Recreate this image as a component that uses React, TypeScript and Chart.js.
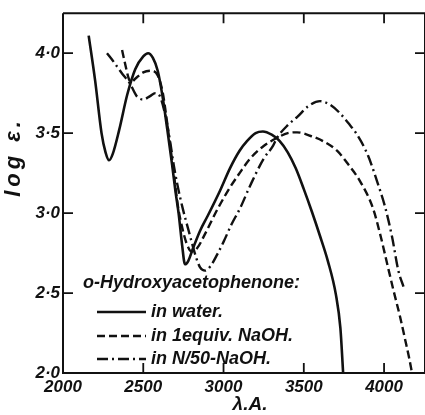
import React, { useEffect, useRef } from "react";
import { Chart, registerables } from "chart.js";

Chart.register(...registerables);

// ---- Data ----
const xTicks = [2000, 2500, 3000, 3500, 4000];
const yTicks = [2.0, 2.5, 3.0, 3.5, 4.0];

const waterX = [2160, 2200, 2240, 2265, 2287, 2310, 2350, 2400, 2450, 2500, 2530, 2560, 2590, 2620, 2650, 2680, 2700, 2720, 2742, 2760, 2780, 2810, 2854, 2900, 2978, 3040, 3100, 3146, 3200, 3245, 3300, 3350, 3400, 3450, 3500, 3550, 3600, 3650, 3700, 3728, 3745];
const waterY = [4.11, 3.83, 3.50, 3.38, 3.33, 3.37, 3.52, 3.74, 3.90, 3.98, 4.0, 3.97, 3.89, 3.73, 3.52, 3.30, 3.14, 3.00, 2.80, 2.68, 2.70, 2.78, 2.89, 2.98, 3.14, 3.28, 3.39, 3.45, 3.50, 3.51, 3.49, 3.45, 3.38, 3.28, 3.15, 3.01, 2.86, 2.70, 2.49, 2.28, 2.0];

const equivX = [2368, 2390, 2410, 2425, 2450, 2500, 2550, 2590, 2620, 2640, 2660, 2690, 2715, 2740, 2770, 2800, 2835, 2885, 2960, 3040, 3100, 3165, 3250, 3333, 3400, 3458, 3550, 3620, 3707, 3780, 3850, 3931, 3980, 4020, 4058, 4100, 4131, 4155, 4174];
const equivY = [4.02, 3.92, 3.84, 3.82, 3.84, 3.88, 3.89, 3.86, 3.76, 3.63, 3.48, 3.25, 3.05, 2.92, 2.81, 2.76, 2.78, 2.87, 3.02, 3.16, 3.25, 3.34, 3.42, 3.47, 3.50, 3.505, 3.48, 3.45, 3.39, 3.30, 3.20, 3.03, 2.85, 2.68, 2.52, 2.35, 2.21, 2.10, 2.0];

const n50X = [2274, 2320, 2370, 2417, 2460, 2500, 2540, 2575, 2604, 2640, 2667, 2690, 2710, 2748, 2780, 2804, 2830, 2854, 2885, 2920, 2960, 3000, 3050, 3103, 3165, 3250, 3308, 3333, 3400, 3458, 3530, 3601, 3660, 3720, 3780, 3832, 3900, 3956, 4006, 4050, 4089, 4121];
const n50Y = [4.0, 3.94, 3.87, 3.81, 3.73, 3.71, 3.73, 3.75, 3.73, 3.60, 3.45, 3.30, 3.19, 3.02, 2.90, 2.81, 2.72, 2.66, 2.64, 2.67, 2.74, 2.82, 2.93, 3.03, 3.17, 3.34, 3.42, 3.47, 3.55, 3.60, 3.67, 3.70, 3.68, 3.63, 3.56, 3.49, 3.36, 3.20, 3.04, 2.85, 2.64, 2.54];

const legendTitle = "o-Hydroxyacetophenone:";
const seriesLabels = ["in water.", "in 1equiv. NaOH.", "in N/50-NaOH."];
const xTitle = "λ.A.";
const yTitle = "log ε.";

const FONT = '"Liberation Sans", Arial, sans-serif';
const INK = "#111";
const dashes: number[][] = [[], [8, 4], [11, 4, 2, 4]];

function toPoints(xs: number[], ys: number[]) {
  return xs.map((x, i) => ({ x, y: ys[i] }));
}

const framePlugin = {
  id: "frame",
  afterDraw(chart: any) {
    const ctx = chart.ctx as CanvasRenderingContext2D;
    const { left, right, top, bottom } = chart.chartArea;
    const xs = chart.scales.x;
    const ys = chart.scales.y;
    ctx.save();
    ctx.strokeStyle = INK;
    ctx.lineWidth = 2;
    ctx.beginPath();
    ctx.moveTo(left, top);
    ctx.lineTo(left, bottom);
    ctx.lineTo(right, bottom);
    ctx.moveTo(left, top);
    ctx.lineTo(right, top);
    ctx.lineTo(right, bottom);
    ctx.stroke();
    ctx.lineWidth = 1.8;
    ctx.beginPath();
    xTicks.slice(1).forEach((v) => {
      const px = xs.getPixelForValue(v);
      ctx.moveTo(px, bottom);
      ctx.lineTo(px, bottom - 10);
      ctx.moveTo(px, top);
      ctx.lineTo(px, top + 10);
    });
    yTicks.slice(1).forEach((v) => {
      const py = ys.getPixelForValue(v);
      ctx.moveTo(left, py);
      ctx.lineTo(left + 10, py);
      ctx.moveTo(right, py);
      ctx.lineTo(right - 10, py);
    });
    ctx.stroke();

    // axis titles
    ctx.fillStyle = INK;
    ctx.font = `bold italic 19px ${FONT}`;
    ctx.textAlign = "center";
    ctx.textBaseline = "middle";
    ctx.fillText(xTitle, 250, 405);
    ctx.save();
    ctx.translate(14, 157);
    ctx.rotate(-Math.PI / 2);
    ctx.font = `bold italic 22px ${FONT}`;
    try {
      (ctx as any).letterSpacing = "4px";
    } catch (e) {}
    ctx.fillText(yTitle, 0, 0);
    ctx.restore();

    // legend
    ctx.textAlign = "left";
    ctx.font = `bold italic 18px ${FONT}`;
    ctx.fillText(legendTitle, 83, 283);
    const rows = [312, 336, 359];
    seriesLabels.forEach((lab, i) => {
      ctx.beginPath();
      ctx.setLineDash(dashes[i]);
      ctx.lineWidth = 2.5;
      ctx.moveTo(97, rows[i]);
      ctx.lineTo(146, rows[i]);
      ctx.stroke();
      ctx.setLineDash([]);
      ctx.fillText(lab, 151, rows[i]);
    });
    ctx.restore();
  },
};

export default function App() {
  const ref = useRef<HTMLCanvasElement | null>(null);
  useEffect(() => {
    document.body.style.margin = "0";
    const canvas = ref.current!;
    const mk = (xs: number[], ys: number[], i: number) => ({
      label: seriesLabels[i],
      data: toPoints(xs, ys),
      borderColor: INK,
      borderWidth: i === 0 ? 2.6 : 2.4,
      borderDash: dashes[i],
      pointRadius: 0,
      fill: false,
      cubicInterpolationMode: "monotone" as const,
    });
    const tickFont = { family: FONT, size: 17, style: "italic" as const, weight: "bold" as const };
    const chart = new Chart(canvas, {
      type: "line",
      data: {
        datasets: [mk(waterX, waterY, 0), mk(equivX, equivY, 1), mk(n50X, n50Y, 2)],
      },
      plugins: [framePlugin],
      options: {
        responsive: false,
        animation: false,
        devicePixelRatio: 1,
        layout: { padding: { top: 13, right: 0, left: 0, bottom: 0 } },
        plugins: { legend: { display: false }, tooltip: { enabled: false } },
        scales: {
          x: {
            type: "linear",
            min: 2000,
            max: 4255,
            afterBuildTicks: (s: any) => {
              s.ticks = xTicks.map((v) => ({ value: v }));
            },
            afterFit: (s: any) => {
              s.height = 42;
            },
            grid: { display: false, tickLength: 0 },
            border: { display: false },
            ticks: {
              color: INK,
              font: tickFont,
              padding: 4,
              maxRotation: 0,
              callback: (v: any) => String(v),
            },
          },
          y: {
            type: "linear",
            min: 2.0,
            max: 4.25,
            afterBuildTicks: (s: any) => {
              s.ticks = yTicks.map((v) => ({ value: v }));
            },
            afterFit: (s: any) => {
              s.width = 63;
            },
            grid: { display: false, tickLength: 0 },
            border: { display: false },
            ticks: {
              color: INK,
              font: tickFont,
              padding: 3,
              callback: (v: any) => Number(v).toFixed(1).replace(".", "·"),
            },
          },
        },
      },
    });
    return () => chart.destroy();
  }, []);
  return (
    <canvas
      ref={ref}
      width={425}
      height={415}
      style={{ display: "block", width: 425, height: 415 }}
    />
  );
}
